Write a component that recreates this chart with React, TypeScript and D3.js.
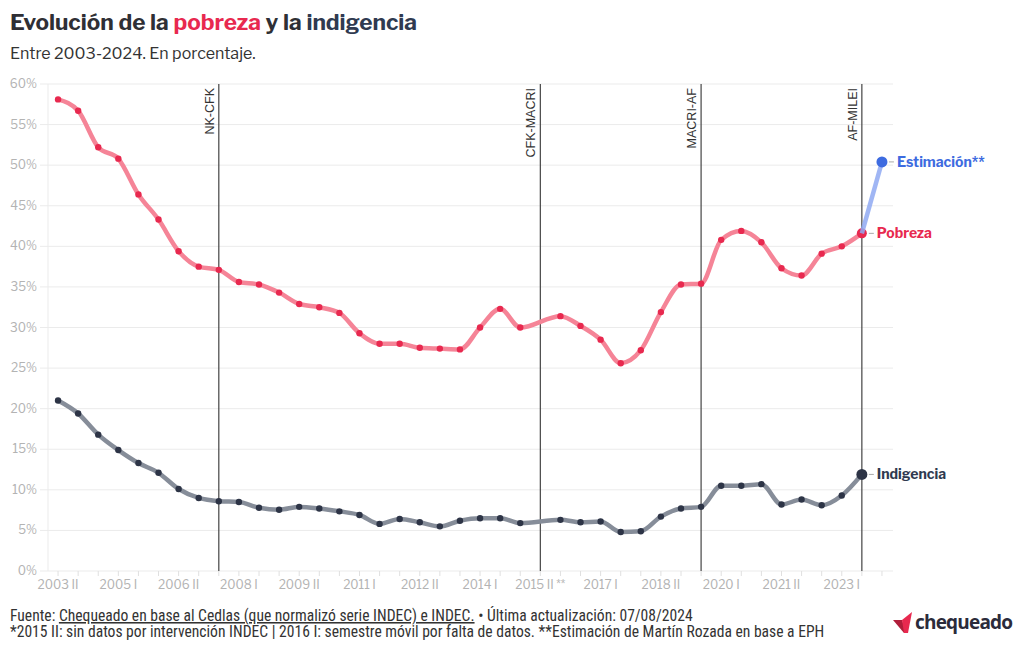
import React from "react";
import * as d3 from "d3";

const semesters = [
  "2003 II","2004 I","2004 II","2005 I","2005 II","2006 I","2006 II","2007 I","2007 II",
  "2008 I","2008 II","2009 I","2009 II","2010 I","2010 II","2011 I","2011 II","2012 I","2012 II",
  "2013 I","2013 II","2014 I","2014 II","2015 I","2015 II","2016 I","2016 II","2017 I","2017 II",
  "2018 I","2018 II","2019 I","2019 II","2020 I","2020 II","2021 I","2021 II","2022 I","2022 II",
  "2023 I","2023 II","2024 I",
];

const tickLabels = [
  "2003 II","2005 I","2006 II","2008 I","2009 II","2011 I","2012 II","2014 I","2015 II **",
  "2017 I","2018 II","2020 I","2021 II","2023 I",
];
const tickSemesters = [
  "2003 II","2005 I","2006 II","2008 I","2009 II","2011 I","2012 II","2014 I","2015 II",
  "2017 I","2018 II","2020 I","2021 II","2023 I",
];

const pobreza: (number | null)[] = [
  58.1, 56.7, 52.2, 50.8, 46.4, 43.3, 39.4, 37.5, 37.1,
  35.6, 35.3, 34.3, 32.9, 32.5, 31.8, 29.3, 28.0, 28.0, 27.5,
  27.4, 27.3, 30.0, 32.3, 30.0, null, 31.4, 30.2, 28.5, 25.6,
  27.2, 31.9, 35.3, 35.4, 40.8, 41.9, 40.5, 37.3, 36.4, 39.1,
  40.0, 41.6, null,
];

const indigencia: (number | null)[] = [
  21.0, 19.4, 16.8, 14.9, 13.3, 12.1, 10.1, 9.0, 8.6,
  8.5, 7.8, 7.55, 7.9, 7.7, 7.35, 6.9, 5.8, 6.4, 6.0,
  5.5, 6.2, 6.5, 6.5, 5.9, null, 6.3, 6.0, 6.1, 4.8,
  4.9, 6.7, 7.7, 7.9, 10.5, 10.5, 10.7, 8.2, 8.8, 8.1,
  9.3, 11.9, null,
];

const estimacionSemesters = ["2023 II", "2024 I"];
const estimacionValues = [41.6, 50.4];

const periodSemesters = ["2007 II", "2015 II", "2019 II", "2023 II"];
const periodLabels = ["NK-CFK", "CFK-MACRI", "MACRI-AF", "AF-MILEI"];

const yTicks = [0, 5, 10, 15, 20, 25, 30, 35, 40, 45, 50, 55, 60];

const RED = "#e8294f";
const RED_LINE = "#f58497";
const DARK = "#2d3446";
const DARK_LINE = "#868d99";
const BLUE = "#3d6be0";
const BLUE_LINE = "#8fa9f2";

export default function App() {
  const W = 1020, H = 650;
  const x = d3.scalePoint<string>().domain(semesters).range([48, 892]).padding(0.5);
  const y = d3.scaleLinear().domain([0, 60]).range([571, 84]);

  const mk = (vals: (number | null)[]) =>
    semesters
      .map((s, i) => ({ s, v: vals[i] }))
      .filter((d) => d.v !== null) as { s: string; v: number }[];

  const pData = mk(pobreza);
  const iData = mk(indigencia);
  const eData = estimacionSemesters.map((s, i) => ({ s, v: estimacionValues[i] }));

  const line = d3
    .line<{ s: string; v: number }>()
    .x((d) => x(d.s)!)
    .y((d) => y(d.v))
    .curve(d3.curveMonotoneX);

  const labelFont = "'Libre Franklin', Inter, 'Noto Sans', sans-serif";
  const pLast = pData[pData.length - 1];
  const iLast = iData[iData.length - 1];
  const eLast = eData[eData.length - 1];

  return (
    <svg width={W} height={H} style={{ position: "absolute", left: 0, top: 0, background: "#fff" }}
      fontFamily={labelFont}>
      {/* title */}
      <text x={10} y={30} fontSize={22.6} fontWeight={700} fill="#2f2f35">
        Evolución de la <tspan fill={RED}>pobreza</tspan> y la <tspan fill="#2f3a50">indigencia</tspan>
      </text>
      <text x={10} y={59} fontSize={16} fill="#333">Entre 2003-2024. En porcentaje.</text>

      {/* grid */}
      {yTicks.map((t) => (
        <g key={t}>
          <line x1={40} x2={893} y1={y(t)} y2={y(t)} stroke="#ebebeb" strokeWidth={1} />
          <text x={37} y={y(t) + 4} textAnchor="end" fontSize={12} fill="#b3b3b3">{t}%</text>
        </g>
      ))}
      <line x1={48} x2={48} y1={84} y2={571} stroke="#ebebeb" />

      {/* x ticks */}
      {semesters.map((s) => (
        <line key={s} x1={x(s)} x2={x(s)} y1={571} y2={576} stroke="#e0e0e0" />
      ))}
      {tickSemesters.map((s, i) => (
        <text key={s} x={x(s)} y={589} textAnchor="middle" fontSize={12} fill="#b3b3b3">
          {tickLabels[i]}
        </text>
      ))}

      {/* period lines */}
      {periodSemesters.map((s, i) => (
        <g key={s}>
          <line x1={x(s)} x2={x(s)} y1={84} y2={571} stroke="#444" strokeWidth={1.2} />
          <text transform={`translate(${x(s)! - 5},88) rotate(-90)`} textAnchor="end" fontSize={12.5}
            fontFamily="'Liberation Sans', Arial, sans-serif" fill="#333">
            {periodLabels[i]}
          </text>
        </g>
      ))}

      {/* lines */}
      <path d={line(iData)!} fill="none" stroke={DARK_LINE} strokeWidth={4.5} />
      <path d={line(pData)!} fill="none" stroke={RED_LINE} strokeWidth={4.5} />
      {iData.slice(0, -1).map((d) => (
        <circle key={d.s} cx={x(d.s)} cy={y(d.v)} r={3.2} fill={DARK} />
      ))}
      {pData.slice(0, -1).map((d) => (
        <circle key={d.s} cx={x(d.s)} cy={y(d.v)} r={3.2} fill={RED} />
      ))}
      <circle cx={x(pLast.s)} cy={y(pLast.v)} r={5} fill={RED} />
      <path d={line(eData)!} fill="none" stroke={BLUE_LINE} strokeWidth={4.5} opacity={0.85} />
      <circle cx={x(eLast.s)} cy={y(eLast.v)} r={5.5} fill={BLUE} />
      <circle cx={x(iLast.s)} cy={y(iLast.v)} r={5.5} fill={DARK} />

      {/* end labels */}
      {[
        { d: eLast, t: "Estimación**", c: BLUE },
        { d: pLast, t: "Pobreza", c: RED },
        { d: iLast, t: "Indigencia", c: "#2f3a50" },
      ].map((o) => (
        <g key={o.t}>
          <line x1={x(o.d.s)! + 7} x2={x(o.d.s)! + 12} y1={y(o.d.v)} y2={y(o.d.v)} stroke="#aaa" />
          <text x={x(o.d.s)! + 15} y={y(o.d.v) + 5} fontSize={14} fontWeight={700} fill={o.c}>{o.t}</text>
        </g>
      ))}

      {/* footer */}
      <g fontFamily="'Liberation Sans Narrow', 'Roboto Condensed', 'Liberation Sans', sans-serif" fontSize={15.6} fill="#333">
        <text x={10} y={621}>
          Fuente: <tspan textDecoration="underline">Chequeado en base al Cedlas (que normalizó serie INDEC) e INDEC.</tspan> • Última actualización: 07/08/2024
        </text>
        <text x={10} y={637}>
          *2015 II: sin datos por intervención INDEC | 2016 I: semestre móvil por falta de datos. **Estimación de Martín Rozada en base a EPH
        </text>
      </g>

      {/* logo */}
      <g transform="translate(893,612)">
        <path d="M0,8 L9,8 L12,17 L11,21 Z" fill="#b01e3a" />
        <path d="M9,8 L19,0 L15,21 L11,21 Z" fill={RED} />
        <text x={22} y={17} fontSize={19} fontWeight={700} fill="#2b2b3a"
          fontFamily="'Open Sans', 'Noto Sans', sans-serif" letterSpacing={-0.8}>chequeado</text>
      </g>
    </svg>
  );
}
